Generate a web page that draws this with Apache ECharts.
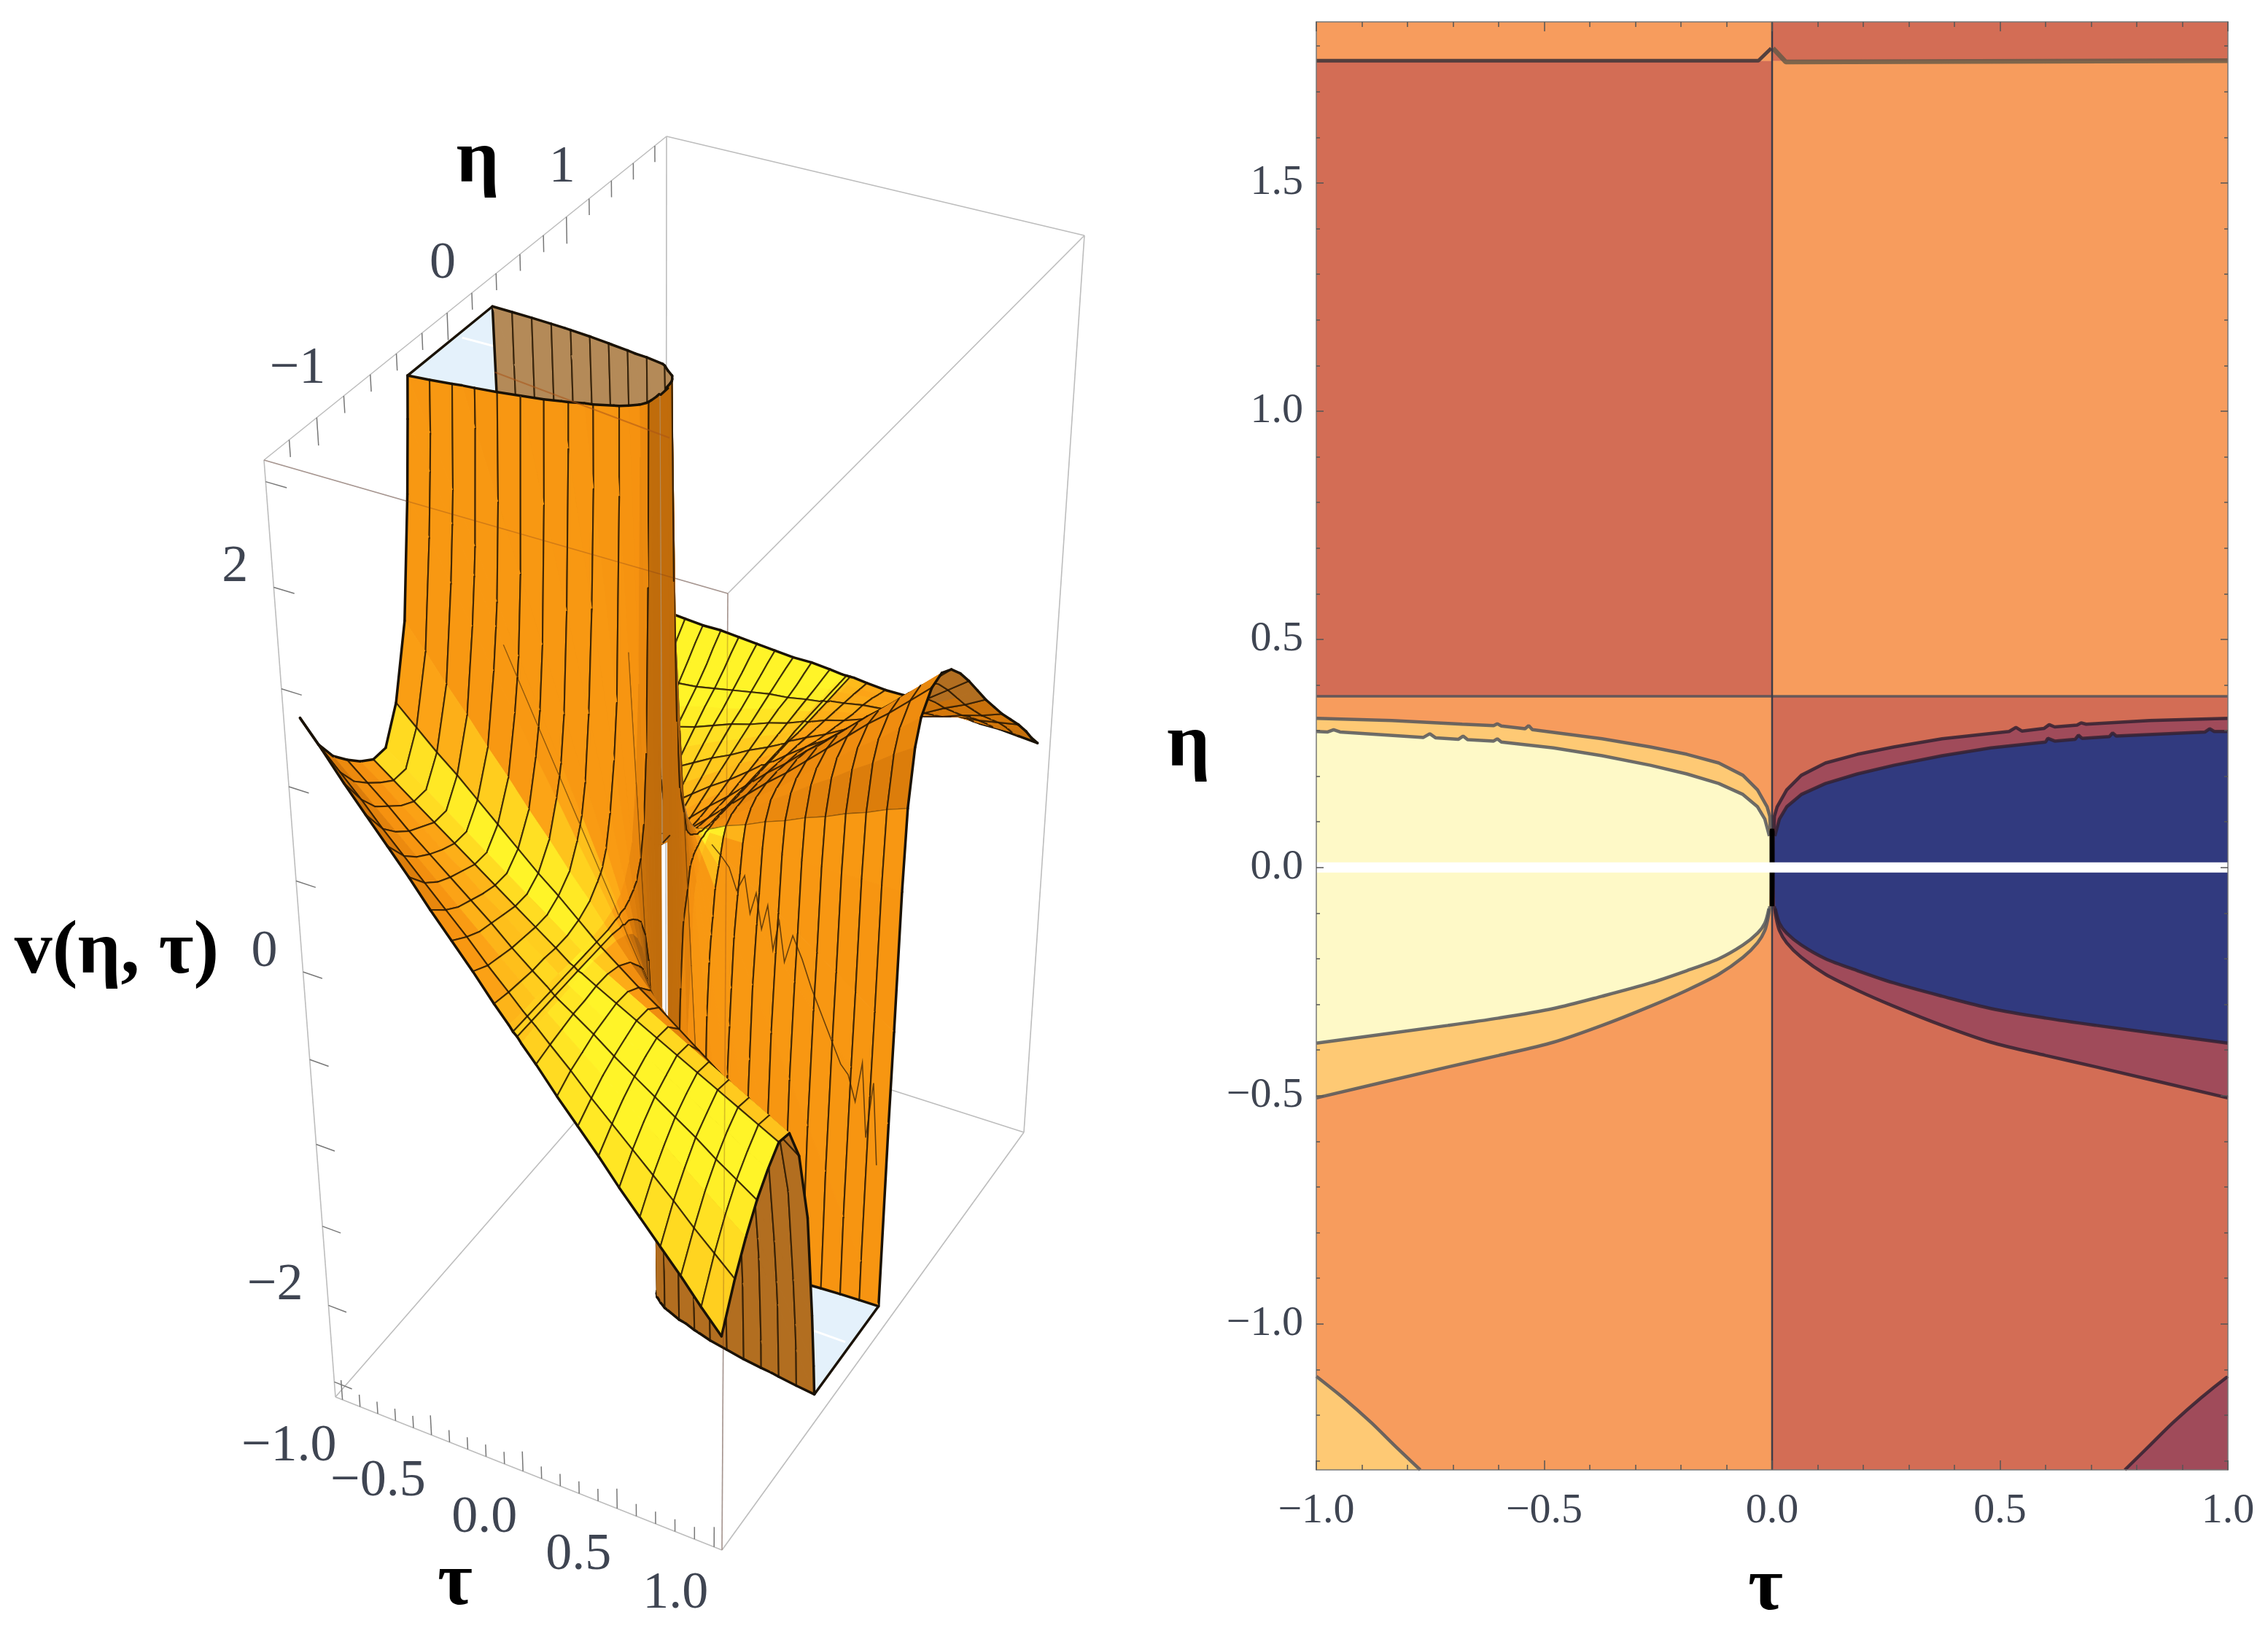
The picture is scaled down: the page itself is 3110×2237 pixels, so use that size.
<!DOCTYPE html>
<html>
<head>
<meta charset="utf-8">
<title>v(eta, tau)</title>
<script src="https://cdn.jsdelivr.net/npm/echarts@6/dist/echarts.min.js"></script>
<style>
html, body { margin: 0; background: #fff; }
#chart { width: 3110px; height: 2237px; }
</style>
</head>
<body>
<div id="chart"></div>
<script>
const contourTauRange = [-1, 1]
const contourEtaRange = [-1.32, 1.853]
const signFlipEta = [-1.32, 0.375, 1.768, 1.853]
const tickMajor = { tau: [-1, -0.5, 0, 0.5, 1], eta: [-1, -0.5, 0, 0.5, 1, 1.5] }
const tickMinorTau = [-0.9, -0.8, -0.7, -0.6, -0.4, -0.3, -0.2, -0.1, 0.1, 0.2, 0.3, 0.4, 0.6, 0.7, 0.8, 0.9]
const tickMinorEta = [-1.3, -1.2, -1.1, -0.9, -0.8, -0.7, -0.6, -0.4, -0.3, -0.2, -0.1, 0.1, 0.2, 0.3, 0.4, 0.6, 0.7, 0.8, 0.9, 1.1, 1.2, 1.3, 1.4, 1.6, 1.7, 1.8]

const outerUpperLeft = [[-1, 0.327], [-0.834, 0.322], [-0.68, 0.314], [-0.611, 0.311], [-0.603, 0.315], [-0.594, 0.31], [-0.542, 0.304], [-0.534, 0.311], [-0.526, 0.302], [-0.48, 0.296], [-0.373, 0.282], [-0.267, 0.264], [-0.187, 0.248], [-0.117, 0.229], [-0.064, 0.202], [-0.032, 0.17], [-0.011, 0.133], [-0.005, 0.112], [-0.004, 0.085]]
const innerUpperLeft = [[-1, 0.298], [-0.975, 0.297], [-0.962, 0.302], [-0.948, 0.297], [-0.765, 0.285], [-0.751, 0.293], [-0.738, 0.284], [-0.688, 0.281], [-0.678, 0.288], [-0.668, 0.28], [-0.611, 0.277], [-0.603, 0.282], [-0.594, 0.275], [-0.48, 0.262], [-0.373, 0.245], [-0.267, 0.224], [-0.187, 0.205], [-0.117, 0.184], [-0.064, 0.16], [-0.032, 0.133], [-0.016, 0.106], [-0.006, 0.069], [-0.005, 0.01]]
const innerLowerLeft = [[-1, -0.385], [-0.711, -0.346], [-0.6, -0.33], [-0.48, -0.309], [-0.373, -0.282], [-0.267, -0.253], [-0.187, -0.226], [-0.117, -0.2], [-0.064, -0.17], [-0.032, -0.144], [-0.016, -0.122], [-0.007, -0.09], [-0.005, -0.01]]
const outerLowerLeft = [[-1, -0.505], [-0.711, -0.437], [-0.6, -0.412], [-0.48, -0.383], [-0.373, -0.346], [-0.267, -0.304], [-0.187, -0.269], [-0.117, -0.234], [-0.064, -0.197], [-0.032, -0.165], [-0.016, -0.138], [-0.008, -0.106], [-0.005, -0.085]]
const outerUpperRight = [[0.004, 0.085], [0.005, 0.112], [0.011, 0.133], [0.032, 0.17], [0.064, 0.202], [0.117, 0.229], [0.187, 0.248], [0.267, 0.264], [0.373, 0.282], [0.52, 0.298], [0.535, 0.307], [0.548, 0.299], [0.597, 0.305], [0.608, 0.313], [0.62, 0.308], [0.669, 0.312], [0.678, 0.317], [0.689, 0.314], [0.828, 0.322], [1, 0.327]]
const innerUpperRight = [[0.005, 0.01], [0.006, 0.069], [0.016, 0.106], [0.032, 0.133], [0.064, 0.16], [0.117, 0.184], [0.187, 0.205], [0.267, 0.224], [0.373, 0.245], [0.48, 0.262], [0.6, 0.275], [0.605, 0.283], [0.62, 0.277], [0.665, 0.281], [0.672, 0.29], [0.68, 0.283], [0.74, 0.287], [0.747, 0.295], [0.755, 0.288], [0.95, 0.297], [0.96, 0.304], [0.97, 0.298], [1, 0.298]]
const innerLowerRight = [[0.005, -0.01], [0.007, -0.09], [0.016, -0.122], [0.032, -0.144], [0.064, -0.17], [0.117, -0.2], [0.187, -0.226], [0.267, -0.253], [0.373, -0.282], [0.48, -0.309], [0.6, -0.33], [0.711, -0.346], [1, -0.385]]
const outerLowerRight = [[0.005, -0.085], [0.008, -0.106], [0.016, -0.138], [0.032, -0.165], [0.064, -0.197], [0.117, -0.234], [0.187, -0.269], [0.267, -0.304], [0.373, -0.346], [0.48, -0.383], [0.6, -0.412], [0.711, -0.437], [1, -0.505]]
const cornerLeft = [[-1, -1.115], [-0.94, -1.163], [-0.88, -1.216], [-0.83, -1.265], [-0.772, -1.32]]
const cornerRight = [[0.774, -1.32], [0.83, -1.265], [0.88, -1.216], [0.94, -1.163], [1, -1.115]]
const foldTopLeft = [[-1, 1.768], [-0.03, 1.768], [-0.002, 1.795]]
const foldTopRight = [[0.002, 1.795], [0.03, 1.765], [1, 1.768]]

// ---- surface panel (left): tau columns, eta rows, v at the negative tau columns ----
// positive tau is close to the same sheet with the sign flipped
const surfaceTau = [-1, -0.9, -0.8, -0.7, -0.6, -0.5, -0.4, -0.3, -0.2, -0.1, -0.03, -0.01]
const surfaceEta = [-1.32, -1.2, -1.1, -1, -0.9, -0.8, -0.7, -0.6, -0.5, -0.43, -0.4, -0.385, -0.35, -0.31, -0.27, -0.24, -0.2, -0.17, -0.144, -0.12, -0.09, -0.05, -0.03, 0.03, 0.069, 0.106, 0.133, 0.16, 0.2, 0.224, 0.245, 0.262, 0.277, 0.298, 0.33, 0.35, 0.375, 0.4, 0.45, 0.5, 0.6, 0.7, 0.8, 0.9, 1, 1.1, 1.2, 1.3, 1.4, 1.5, 1.6, 1.7, 1.77, 1.85]
const meshEta = [-1.2, -1, -0.8, -0.6, -0.4, -0.2, 0.2, 0.4, 0.6, 0.8, 1, 1.2, 1.4, 1.6]
const surfaceV = [
  [1.33, 1.2, 1.06, 0.93, 0.8, 0.67, 0.53, 0.4, 0.27, 0.13, 0.04, 0.01],
  [1.12, 1.01, 0.9, 0.78, 0.67, 0.56, 0.45, 0.34, 0.22, 0.11, 0.03, 0.01],
  [1, 0.9, 0.8, 0.7, 0.6, 0.5, 0.4, 0.3, 0.2, 0.1, 0.03, 0.01],
  [0.92, 0.83, 0.74, 0.64, 0.55, 0.46, 0.37, 0.28, 0.18, 0.09, 0.03, 0.01],
  [0.85, 0.77, 0.68, 0.6, 0.51, 0.43, 0.34, 0.26, 0.17, 0.09, 0.03, 0.01],
  [0.8, 0.72, 0.64, 0.56, 0.48, 0.4, 0.32, 0.24, 0.16, 0.08, 0.02, 0.01],
  [0.8, 0.72, 0.64, 0.56, 0.48, 0.4, 0.32, 0.24, 0.16, 0.08, 0.02, 0.01],
  [0.98, 0.88, 0.78, 0.69, 0.59, 0.49, 0.39, 0.29, 0.2, 0.1, 0.03, 0.01],
  [1.35, 1.22, 1.08, 0.95, 0.81, 0.68, 0.54, 0.41, 0.27, 0.14, 0.04, 0.01],
  [1.95, 1.76, 1.56, 1.37, 1.17, 0.98, 0.78, 0.59, 0.39, 0.2, 0.06, 0.02],
  [2.3, 2.07, 1.84, 1.61, 1.38, 1.15, 0.92, 0.69, 0.46, 0.23, 0.07, 0.02],
  [2.5, 2.25, 2, 1.75, 1.5, 1.25, 1, 0.75, 0.5, 0.25, 0.08, 0.03],
  [3.3, 2.97, 2.64, 2.31, 1.98, 1.65, 1.32, 0.99, 0.66, 0.33, 0.1, 0.03],
  [5, 4.5, 4, 3.5, 3, 2.5, 2, 1.5, 1, 0.5, 0.15, 0.05],
  [7.6, 6.84, 6.08, 5.32, 4.56, 3.8, 3.04, 2.28, 1.52, 0.76, 0.23, 0.08],
  [9, 9, 8.4, 7.35, 6.3, 5.25, 4.2, 3.15, 2.1, 1.05, 0.32, 0.11],
  [9, 9, 9, 9, 9, 9, 8.28, 6.21, 4.14, 2.07, 0.62, 0.21],
  [9, 9, 9, 9, 9, 9, 9, 9, 7.56, 3.78, 1.13, 0.38],
  [9, 9, 9, 9, 9, 9, 9, 9, 9, 7.5, 2.25, 0.75],
  [9, 9, 9, 9, 9, 9, 9, 9, 9, 9, 4.8, 1.6],
  [9, 9, 9, 9, 9, 9, 9, 9, 9, 9, 9, 3.5],
  [9, 9, 9, 9, 9, 9, 9, 9, 9, 9, 9, 9],
  [9, 9, 9, 9, 9, 9, 9, 9, 9, 9, 9, 9],
  [9, 9, 9, 9, 9, 9, 9, 9, 9, 9, 9, 9],
  [9, 9, 9, 9, 9, 9, 9, 9, 9, 9, 9, 4],
  [9, 9, 9, 9, 9, 9, 9, 9, 9, 9, 4.53, 1.51],
  [9, 9, 9, 9, 9, 9, 9, 9, 9, 7.56, 2.27, 0.76],
  [9, 9, 9, 9, 9, 9, 9, 9, 7.56, 3.78, 1.13, 0.38],
  [9, 9, 9, 9, 9, 9, 8.8, 6.6, 4.4, 2.2, 0.66, 0.22],
  [9, 8.64, 7.68, 6.72, 5.76, 4.8, 3.84, 2.88, 1.92, 0.96, 0.29, 0.1],
  [6.5, 5.85, 5.2, 4.55, 3.9, 3.25, 2.6, 1.95, 1.3, 0.65, 0.2, 0.07],
  [5.04, 4.54, 4.03, 3.53, 3.02, 2.52, 2.02, 1.51, 1.01, 0.5, 0.15, 0.05],
  [3.96, 3.56, 3.17, 2.77, 2.38, 1.98, 1.58, 1.19, 0.79, 0.4, 0.12, 0.04],
  [2.5, 2.25, 2, 1.75, 1.5, 1.25, 1, 0.75, 0.5, 0.25, 0.08, 0.03],
  [1.35, 1.22, 1.08, 0.95, 0.81, 0.68, 0.54, 0.41, 0.27, 0.14, 0.04, 0.01],
  [0.8, 0.72, 0.64, 0.56, 0.48, 0.4, 0.32, 0.24, 0.16, 0.08, 0.02, 0.01],
  [0, 0, 0, 0, 0, 0, 0, 0, 0, 0, 0, 0],
  [-0.45, -0.41, -0.36, -0.32, -0.27, -0.23, -0.18, -0.14, -0.09, -0.05, -0.01, 0],
  [-0.75, -0.68, -0.6, -0.53, -0.45, -0.38, -0.3, -0.23, -0.15, -0.08, -0.02, -0.01],
  [-0.88, -0.79, -0.7, -0.62, -0.53, -0.44, -0.35, -0.26, -0.18, -0.09, -0.03, -0.01],
  [-0.98, -0.88, -0.78, -0.69, -0.59, -0.49, -0.39, -0.29, -0.2, -0.1, -0.03, -0.01],
  [-1, -0.9, -0.8, -0.7, -0.6, -0.5, -0.4, -0.3, -0.2, -0.1, -0.03, -0.01],
  [-0.96, -0.86, -0.77, -0.67, -0.58, -0.48, -0.38, -0.29, -0.19, -0.1, -0.03, -0.01],
  [-0.88, -0.79, -0.7, -0.62, -0.53, -0.44, -0.35, -0.26, -0.18, -0.09, -0.03, -0.01],
  [-0.78, -0.7, -0.62, -0.55, -0.47, -0.39, -0.31, -0.23, -0.16, -0.08, -0.02, -0.01],
  [-0.67, -0.6, -0.54, -0.47, -0.4, -0.34, -0.27, -0.2, -0.13, -0.07, -0.02, -0.01],
  [-0.56, -0.5, -0.45, -0.39, -0.34, -0.28, -0.22, -0.17, -0.11, -0.06, -0.02, -0.01],
  [-0.46, -0.41, -0.37, -0.32, -0.28, -0.23, -0.18, -0.14, -0.09, -0.05, -0.01, 0],
  [-0.36, -0.32, -0.29, -0.25, -0.22, -0.18, -0.14, -0.11, -0.07, -0.04, -0.01, 0],
  [-0.27, -0.24, -0.22, -0.19, -0.16, -0.14, -0.11, -0.08, -0.05, -0.03, -0.01, 0],
  [-0.18, -0.16, -0.14, -0.13, -0.11, -0.09, -0.07, -0.05, -0.04, -0.02, -0.01, 0],
  [-0.08, -0.07, -0.06, -0.06, -0.05, -0.04, -0.03, -0.02, -0.02, -0.01, 0, 0],
  [0, 0, 0, 0, 0, 0, 0, 0, 0, 0, 0, 0],
  [0.08, 0.07, 0.06, 0.06, 0.05, 0.04, 0.03, 0.02, 0.02, 0.01, 0, 0]
]
// how far the positive tau arch comes down against the negative tau valley, first rows only
const surfaceRightScale = [1, 0.97, 0.92, 0.85, 0.8, 0.75, 0.78, 0.85, 0.95, 1]
// the ragged mesh line on the lower wall, at eta 0.3, read as tau and v
const wiggleTau = [0.08, 0.13, 0.17, 0.21, 0.25, 0.28, 0.31, 0.34, 0.37, 0.4, 0.43, 0.46, 0.5, 0.55, 0.6, 0.66, 0.72, 0.76, 0.8, 0.84, 0.87, 0.9, 0.93, 0.96]
const wiggleV = [0, -0.05, -0.1, -0.22, -0.12, -0.33, -0.2, -0.4, -0.25, -0.5, -0.32, -0.55, -0.38, -0.5, -0.65, -0.8, -0.95, -1.05, -1.1, -1.25, -1, -1.45, -1.1, -1.6]

const surfaceClip = [-2.5, 2.5]
const boxTau = [-1.04, 1.04]
const boxEta = [-1.38, 1.91]
const boxV = [-2.6, 2.6]
const boxTauTicks = [-1, -0.9, -0.8, -0.7, -0.6, -0.5, -0.4, -0.3, -0.2, -0.1, 0, 0.1, 0.2, 0.3, 0.4, 0.5, 0.6, 0.7, 0.8, 0.9, 1]
const boxEtaTicks = [-1.2, -1, -0.8, -0.6, -0.4, -0.2, 0, 0.2, 0.4, 0.6, 0.8, 1, 1.2, 1.4, 1.6, 1.8]
const boxVTicks = [-2.5, -2, -1.5, -1, -0.5, 0, 0.5, 1, 1.5, 2, 2.5]
const boxTauLabels = [-1, -0.5, 0, 0.5, 1]
const boxEtaLabels = [-1, 0, 1]
const boxVLabels = [-2, 0, 2]

// page pixels of the box corners, how the camera sits in the reference
const cornersTop = [[362, 631], [998, 814], [1487, 323], [914, 187]]
const cornersBottom = [[460, 1916], [990, 2126], [1404, 1553], [913, 1396]]
const depthRatio = 1.204

const serif = '"Liberation Serif", serif'
const tickInk = '#3f4552'
const minus = v => String(v).replace('-', '\u2212')

function quadMap(q) {
  const [[x0, y0], [x1, y1], [x2, y2], [x3, y3]] = q
  const dx3 = x0 - x1 + x2 - x3, dy3 = y0 - y1 + y2 - y3
  const dx1 = x1 - x2, dx2 = x3 - x2, dy1 = y1 - y2, dy2 = y3 - y2
  const den = dx1 * dy2 - dy1 * dx2
  const g = (dx3 * dy2 - dy3 * dx2) / den, h = (dx1 * dy3 - dy1 * dx3) / den
  const a = x1 - x0 + g * x1, b = x3 - x0 + h * x3, d = y1 - y0 + g * y1, e = y3 - y0 + h * y3
  return (u, w) => {
    const k = g * u + h * w + 1
    return [(a * u + b * w + x0) / k, (d * u + e * w + y0) / k]
  }
}
const topFace = quadMap(cornersTop)
const bottomFace = quadMap(cornersBottom)

function project(tau, eta, v) {
  const u = (tau - boxTau[0]) / (boxTau[1] - boxTau[0])
  const w = (eta - boxEta[0]) / (boxEta[1] - boxEta[0])
  const t = (boxV[1] - v) / (boxV[1] - boxV[0])
  const s = t * depthRatio / (1 - t + t * depthRatio)
  const a = topFace(u, w), b = bottomFace(u, w)
  return [a[0] + (b[0] - a[0]) * s, a[1] + (b[1] - a[1]) * s]
}

function clipSide(pts, limit, sign, closed) {
  const out = []
  const n = pts.length
  const inside = p => sign * p[2] <= sign * limit + 1e-9
  for (let i = 0; i < (closed ? n : n - 1); i++) {
    const a = pts[i], b = pts[(i + 1) % n]
    if (inside(a)) out.push(a)
    if (inside(a) !== inside(b)) {
      const f = (limit - a[2]) / (b[2] - a[2])
      out.push([a[0] + (b[0] - a[0]) * f, a[1] + (b[1] - a[1]) * f, limit])
    }
  }
  if (!closed && inside(pts[n - 1])) out.push(pts[n - 1])
  return out
}
const clipV = (pts, closed, lo = surfaceClip[0], hi = surfaceClip[1]) => {
  const one = clipSide(pts, hi, 1, closed)
  return one.length ? clipSide(one, lo, -1, closed) : one
}

const rampStops = [[0, [170, 96, 12]], [0.2, [214, 120, 10]], [0.45, [246, 146, 16]], [0.6, [252, 164, 22]], [0.75, [255, 205, 30]], [0.88, [255, 244, 40]]]
function ramp(i) {
  if (i <= rampStops[0][0]) return 'rgb(' + rampStops[0][1].join(',') + ')'
  for (let k = 1; k < rampStops.length; k++) {
    if (i <= rampStops[k][0]) {
      const [a, ca] = rampStops[k - 1], [b, cb] = rampStops[k]
      const f = (i - a) / (b - a)
      return 'rgb(' + ca.map((c, j) => Math.round(c + (cb[j] - c) * f)).join(',') + ')'
    }
  }
  return 'rgb(' + rampStops[rampStops.length - 1][1].join(',') + ')'
}

const lightDir = [0.1, -0.45, 0.88]
const viewDir = [0.42, -0.55, 0.72]
function cellFill(poly, tau, eta) {
  let nx = 0, ny = 0, nz = 0
  for (let i = 0; i < poly.length; i++) {
    const a = poly[i], b = poly[(i + 1) % poly.length]
    const ax = a[0], ay = a[1] * 0.68, az = a[2] * 0.78
    const bx = b[0], by = b[1] * 0.68, bz = b[2] * 0.78
    nx += (ay - by) * (az + bz)
    ny += (az - bz) * (ax + bx)
    nz += (ax - bx) * (ay + by)
  }
  const len = Math.hypot(nx, ny, nz) || 1
  nx /= len; ny /= len; nz /= len
  if (nx * viewDir[0] + ny * viewDir[1] + nz * viewDir[2] < -0.04) return tau < 0 ? '#b48a58' : '#b26e20'
  let i = nx * lightDir[0] + ny * lightDir[1] + nz * lightDir[2]
  // tall walls stay orange, easing into the sheet
  i = Math.min(i, 0.5 + Math.max(0, nz - 0.2) * 1.6)
  // the fold behind the lower wall sits in shadow in the reference
  if (eta >= 0.4) {
    if (tau >= 0) i *= eta < 0.85 ? 0.5 : (tau > 0.55 ? 0.6 : 0.8)
    else i *= 0.7 + 0.3 * (eta - 0.4) / 1.45
  }
  return ramp(i)
}

// full column list and one v lookup across both halves
const allTau = surfaceTau.concat(surfaceTau.slice().reverse().map(t => -t))
const rightScale = r => r < surfaceRightScale.length ? surfaceRightScale[r] : 1
const valueAt = (r, c) => c < surfaceTau.length ? surfaceV[r][c] : -surfaceV[r][allTau.length - 1 - c] * rightScale(r)

const surfaceItems = []
const toPixels = pts => pts.map(p => project(p[0], p[1], p[2]))
const segLine = (pts, stroke, width, lo, hi) => {
  const cut = clipV(pts, false, lo, hi)
  if (cut.length < 2) return null
  return { pts: toPixels(cut), stroke, width }
}
const isTauMesh = t => Math.abs(t) > 0.05 || Math.abs(t) === 0.01
// height field seen from above: far eta first, low tau first
for (let r = surfaceEta.length - 2; r >= 0; r--) {
  for (let c = 0; c < allTau.length - 1; c++) {
    const centre = c === surfaceTau.length - 1
    const t0 = allTau[c], t1 = allTau[c + 1], e0 = surfaceEta[r], e1 = surfaceEta[r + 1]
    const quad = [[t0, e0, valueAt(r, c)], [t1, e0, valueAt(r, c + 1)], [t1, e1, valueAt(r + 1, c + 1)], [t0, e1, valueAt(r + 1, c)]]
    // slit at eta 0: the seam stops above it and the page shows through
    if (centre && e0 === -0.03) { quad[1][2] = 0.2; quad[2][2] = 0.2 }
    const poly = clipV(quad, true)
    if (poly.length < 3) continue
    const fill = cellFill(poly, t0, e0)
    const lines = []
    const meshInk = 'rgba(40,24,4,0.85)', faintInk = 'rgba(60,36,8,0.5)', edgeInk = '#1a1206'
    const rowLine = (a, b, e) => {
      if (Math.abs(e) < 0.45) return segLine([a, b], faintInk, 1.3, -1.3, 1.3)
      return segLine([a, b], meshInk, 2.1)
    }
    if (r === 0) lines.push(segLine([quad[0], quad[1]], edgeInk, 3.5))
    else if (meshEta.includes(e0)) lines.push(rowLine(quad[0], quad[1], e0))
    if (r === surfaceEta.length - 2) lines.push(segLine([quad[3], quad[2]], edgeInk, 3.5))
    else if (meshEta.includes(e1)) lines.push(rowLine(quad[3], quad[2], e1))
    if (c === 0) lines.push(segLine([quad[0], quad[3]], edgeInk, 3.5))
    else if (isTauMesh(t0)) lines.push(segLine([quad[0], quad[3]], meshInk, 2.1))
    if (c === allTau.length - 2) lines.push(segLine([quad[1], quad[2]], edgeInk, 3.5))
    else if (isTauMesh(t1)) lines.push(segLine([quad[1], quad[2]], meshInk, 2.1))
    // where the sheet is cut by the box
    for (let i = 0; i < poly.length; i++) {
      const a = poly[i], b = poly[(i + 1) % poly.length]
      if (a[2] === b[2] && Math.abs(a[2]) === surfaceClip[1]) lines.push({ pts: toPixels([a, b]), stroke: edgeInk, width: 3.5 })
    }
    surfaceItems.push({ poly: toPixels(poly), fill, lines: lines.filter(Boolean) })
  }
}

function surfaceElement(api, cell) {
  const children = [{
    type: 'polygon',
    shape: { points: cell.poly.map(p => api.coord(p)) },
    style: { fill: cell.fill, stroke: cell.fill, lineWidth: 1 }
  }]
  cell.lines.forEach(l => children.push({
    type: 'polyline',
    shape: { points: l.pts.map(p => api.coord(p)) },
    style: { fill: 'none', stroke: l.stroke, lineWidth: l.width, lineCap: 'round' }
  }))
  return { type: 'group', children }
}

const lineEl = (api, a, b, stroke, width) => ({
  type: 'line',
  shape: { x1: api.coord(a)[0], y1: api.coord(a)[1], x2: api.coord(b)[0], y2: api.coord(b)[1] },
  style: { stroke, lineWidth: width }
})
const textEl = (api, str, at, align, size, weight, fill) => ({
  type: 'text',
  x: api.coord(at)[0],
  y: api.coord(at)[1],
  style: { text: str, align, verticalAlign: 'middle', fontFamily: serif, fontSize: size, fontWeight: weight, fill }
})

function pixelSeries(name, items, z) {
  return {
    name, type: 'custom', coordinateSystem: 'cartesian2d', xAxisIndex: 0, yAxisIndex: 0,
    silent: true, animation: false, progressive: 0, clip: false, z,
    data: items.map((_, i) => [i, 0]),
    renderItem: (params, api) => items[params.dataIndex](api)
  }
}

const corner = (t, e, v) => project(boxTau[t], boxEta[e], boxV[v])
const boxGrey = '#bdbdbd'
const boxEdges = [
  [corner(0, 0, 1), corner(1, 0, 1)], [corner(1, 0, 1), corner(1, 1, 1)], [corner(1, 1, 1), corner(0, 1, 1)], [corner(0, 1, 1), corner(0, 0, 1)],
  [corner(0, 0, 0), corner(1, 0, 0)], [corner(1, 0, 0), corner(1, 1, 0)], [corner(1, 1, 0), corner(0, 1, 0)], [corner(0, 1, 0), corner(0, 0, 0)],
  [corner(0, 0, 0), corner(0, 0, 1)], [corner(1, 0, 0), corner(1, 0, 1)], [corner(1, 1, 0), corner(1, 1, 1)], [corner(0, 1, 0), corner(0, 1, 1)]
]
const boxFrontEdges = [[corner(0, 0, 1), corner(1, 0, 1)], [corner(1, 0, 0), corner(1, 0, 1)]]

const capFill = '#e4f1fb'
const capOutline = (upper, lower, v) => upper.concat(lower.slice().reverse()).map(p => project(p[0], p[1], v))
const capTop = capOutline(innerUpperLeft, innerLowerLeft, surfaceClip[1])
const capBottom = capOutline(innerUpperRight, innerLowerRight, surfaceClip[0])

const backItems = boxEdges.map(([a, b]) => api => lineEl(api, a, b, boxGrey, 1.6))
;[capBottom, capTop].forEach(pts => backItems.push(api => ({
  type: 'polygon',
  shape: { points: pts.map(p => api.coord(p)) },
  style: { fill: capFill }
})))
const capStreaks = [[project(-0.97, 0, surfaceClip[1]), project(-0.6, 0, surfaceClip[1])], [project(0.6, 0, surfaceClip[0]), project(0.97, 0, surfaceClip[0])]]
capStreaks.forEach(([a, b]) => backItems.push(api => lineEl(api, a, b, '#fff', 3)))

const tickItems = []
boxVTicks.forEach(v => {
  const a = project(boxTau[0], boxEta[0], v), b = project(boxTau[0] + 0.1, boxEta[0], v)
  tickItems.push(api => lineEl(api, a, b, '#777', 1.5))
})
boxEtaTicks.forEach(e => {
  const major = boxEtaLabels.includes(e)
  const a = project(boxTau[0], e, boxV[1]), b = project(boxTau[0], e, boxV[1] - (major ? 0.13 : 0.08))
  tickItems.push(api => lineEl(api, a, b, '#777', 1.5))
})
boxTauTicks.forEach(t => {
  const major = boxTauLabels.includes(t)
  const a = project(t, boxEta[0], boxV[0]), b = project(t, boxEta[0], boxV[0] + (major ? 0.13 : 0.08))
  tickItems.push(api => lineEl(api, a, b, '#777', 1.5))
})
boxVLabels.forEach(v => {
  const p = project(boxTau[0], boxEta[0], v)
  tickItems.push(api => textEl(api, minus(v), [p[0] - 35, p[1] - 27], 'right', 72, 'normal', tickInk))
})
boxEtaLabels.forEach(e => {
  const p = project(boxTau[0], e, boxV[1])
  tickItems.push(api => textEl(api, minus(e), [p[0] + 12, p[1] - 67], 'right', 72, 'normal', tickInk))
})
boxTauLabels.forEach(t => {
  const p = project(t, boxEta[0], boxV[0])
  tickItems.push(api => textEl(api, minus(t.toFixed(1)), [p[0] - 8, p[1] + 64], 'right', 72, 'normal', tickInk))
})
tickItems.push(api => textEl(api, 'v(\u03b7, \u03c4)', [160, 1307], 'center', 104, 'bold', '#000'))
tickItems.push(api => textEl(api, '\u03b7', [655, 222], 'center', 104, 'bold', '#000'))
tickItems.push(api => textEl(api, '\u03c4', [624, 2173], 'center', 104, 'bold', '#000'))

const frontItems = boxFrontEdges.map(([a, b]) => api => lineEl(api, a, b, 'rgba(110,50,30,0.28)', 1.6))
const wigglePts = wiggleTau.map((t, i) => project(t, 0.3, wiggleV[i]))
frontItems.push(api => ({
  type: 'polyline',
  shape: { points: wigglePts.map(p => api.coord(p)) },
  style: { fill: 'none', stroke: 'rgba(60,36,8,0.75)', lineWidth: 1.6 }
}))
const backWallStreak = [project(-1, 0.3, 2.18), project(-0.06, 0.16, 2.18)]
frontItems.push(api => lineEl(api, backWallStreak[0], backWallStreak[1], 'rgba(170,84,24,0.55)', 2))
const capRims = [
  [project(-1, innerLowerLeft[0][1], surfaceClip[1]), project(-1, innerUpperLeft[0][1], surfaceClip[1])],
  [project(1, innerLowerRight[12][1], surfaceClip[0]), project(1, innerUpperRight[22][1], surfaceClip[0])]
]
capRims.forEach(([a, b]) => frontItems.push(api => lineEl(api, a, b, '#1a1206', 3.5)))

// ---- contour regions ----
const colOrange = '#f79c5d', colRed = '#d36d55', colCream = '#fef9c7', colBand = '#fec974', colNavy = '#313a7f', colPlum = '#a04b5a'
const strip = (t0, t1, i) => [[t0, signFlipEta[i]], [t1, signFlipEta[i]], [t1, signFlipEta[i + 1]], [t0, signFlipEta[i + 1]]]
const region = (upper, lower) => upper.concat(lower.slice().reverse())
const contourRegions = [
  { pts: strip(-1, 0, 0), fill: colOrange }, { pts: strip(0, 1, 0), fill: colRed },
  { pts: strip(-1, 0, 1), fill: colRed }, { pts: strip(0, 1, 1), fill: colOrange },
  { pts: strip(-1, 0, 2), fill: colOrange }, { pts: strip(0, 1, 2), fill: colRed },
  { pts: region(outerUpperLeft, outerLowerLeft), fill: colBand },
  { pts: region(innerUpperLeft, innerLowerLeft), fill: colCream },
  { pts: region(outerLowerRight, outerUpperRight), fill: colPlum },
  { pts: region(innerLowerRight, innerUpperRight), fill: colNavy },
  { pts: cornerLeft.concat([[-1, -1.32]]), fill: colBand },
  { pts: cornerRight.concat([[1, -1.32]]), fill: colPlum }
]

const contourLine = (name, data, color, width, z, smooth) => ({
  name, type: 'line', xAxisIndex: 1, yAxisIndex: 1, data, showSymbol: false, silent: true, animation: false,
  lineStyle: { color, width }, z: z || 3, clip: true, smooth: smooth || false
})
const greyInk = 'rgba(84,86,92,0.85)', darkInk = 'rgba(50,34,50,0.85)'

const hiddenLine = { show: false, onZero: false }
const sideAxis = (position, values, len, extra) => Object.assign({
  type: 'value', gridIndex: 1, position, min: contourEtaRange[0], max: contourEtaRange[1],
  splitLine: { show: false }, axisLine: hiddenLine, axisLabel: { show: false }, z: 10,
  axisTick: { show: true, inside: true, length: len, customValues: values, lineStyle: { color: '#555', width: 1.5 } }
}, extra)
const flatAxis = (position, values, len, extra) => Object.assign({
  type: 'value', gridIndex: 1, position, min: contourTauRange[0], max: contourTauRange[1],
  splitLine: { show: false }, axisLine: hiddenLine, axisLabel: { show: false }, z: 10,
  axisTick: { show: true, inside: true, length: len, customValues: values, lineStyle: { color: '#555', width: 1.5 } }
}, extra)
const frameLine = { show: true, onZero: false, lineStyle: { color: '#777', width: 1.5 } }

const option = {
  backgroundColor: '#fff',
  animation: false,
  textStyle: { fontFamily: serif },
  grid: [
    { left: 0, top: 0, width: 3110, height: 2237, outerBoundsMode: 'none' },
    { left: 1805, top: 30, width: 1250, height: 1986, outerBoundsMode: 'none' }
  ],
  xAxis: [
    { type: 'value', gridIndex: 0, min: 0, max: 3110, show: false },
    flatAxis('bottom', tickMajor.tau, 13, {
      axisLine: frameLine,
      name: '\u03c4', nameLocation: 'middle', nameGap: 112,
      nameTextStyle: { fontFamily: serif, fontSize: 104, fontWeight: 'bold', color: '#000', padding: [0, 18, 0, 0] },
      axisLabel: {
        show: true, customValues: tickMajor.tau, margin: 28, color: tickInk, fontFamily: serif, fontSize: 58,
        formatter: v => minus(Number(v).toFixed(1))
      }
    }),
    flatAxis('bottom', tickMinorTau, 7),
    flatAxis('top', tickMajor.tau, 13, { axisLine: frameLine }),
    flatAxis('top', tickMinorTau, 7)
  ],
  yAxis: [
    { type: 'value', gridIndex: 0, min: 0, max: 2237, inverse: true, show: false },
    sideAxis('left', tickMajor.eta, 10, {
      axisLine: frameLine,
      name: '\u03b7', nameLocation: 'middle', nameGap: 146, nameRotate: 0,
      nameTextStyle: { fontFamily: serif, fontSize: 104, fontWeight: 'bold', color: '#000', padding: [56, 0, 0, 0] },
      axisLabel: {
        show: true, customValues: tickMajor.eta, margin: 18, color: tickInk, fontFamily: serif, fontSize: 58,
        formatter: v => minus(Number(v).toFixed(1))
      }
    }),
    sideAxis('left', tickMinorEta, 5),
    sideAxis('right', tickMajor.eta, 10, { axisLine: frameLine }),
    sideAxis('right', tickMinorEta, 5)
  ],
  series: [
    pixelSeries('box back', backItems, 2),
    pixelSeries('surface', surfaceItems.map(cell => api => surfaceElement(api, cell)), 3),
    pixelSeries('box front', frontItems, 4),
    pixelSeries('box ticks', tickItems, 5),
    {
      name: 'contour regions', type: 'custom', coordinateSystem: 'cartesian2d', xAxisIndex: 1, yAxisIndex: 1,
      silent: true, animation: false, z: 1, clip: true,
      data: contourRegions.map((_, i) => [0, 0, i]),
      renderItem: (params, api) => {
        const r = contourRegions[params.dataIndex]
        return { type: 'polygon', shape: { points: r.pts.map(p => api.coord(p)) }, style: { fill: r.fill, stroke: r.fill, lineWidth: 0.5 } }
      }
    },
    contourLine('fold lower', [[-1, signFlipEta[1]], [1, signFlipEta[1]]], 'rgba(80,80,88,0.85)', 3.5),
    contourLine('fold upper left', foldTopLeft, 'rgba(66,54,58,0.9)', 5),
    contourLine('fold upper right', foldTopRight, 'rgba(96,88,70,0.8)', 6.5),
    contourLine('seam', [[0, contourEtaRange[0]], [0, contourEtaRange[1]]], '#3c3c48', 2.5),
    contourLine('left outer up', outerUpperLeft, greyInk, 4.5),
    contourLine('left inner up', innerUpperLeft.slice(0, 22), greyInk, 4.5),
    contourLine('left inner low', innerLowerLeft.slice(0, 12), greyInk, 4.5, false, 0.3),
    contourLine('left outer low', outerLowerLeft, greyInk, 4.5, false, 0.3),
    contourLine('right outer up', outerUpperRight, darkInk, 4.5),
    contourLine('right inner up', innerUpperRight.slice(1), darkInk, 4.5),
    contourLine('right inner low', innerLowerRight.slice(1), darkInk, 4.5, false, 0.3),
    contourLine('right outer low', outerLowerRight, darkInk, 4.5, false, 0.3),
    contourLine('corner left', cornerLeft, greyInk, 4.5, false, 0.3),
    contourLine('corner right', cornerRight, darkInk, 4.5, false, 0.3),
    contourLine('seam core', [[0, -0.085], [0, 0.085]], '#000', 7, 4),
    contourLine('zero gap', [[-1, 0], [1, 0]], '#fff', 14, 5)
  ]
}

const chart = echarts.init(document.getElementById('chart'), null, { renderer: 'canvas' })
chart.setOption(option)
</script>
</body>
</html>
